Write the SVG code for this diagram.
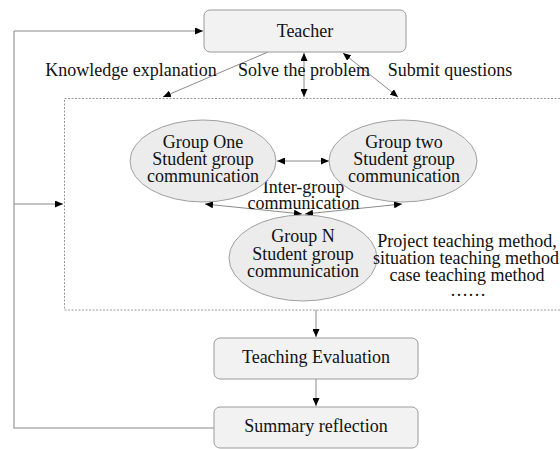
<svg xmlns="http://www.w3.org/2000/svg" width="560" height="449" viewBox="0 0 560 449">
<style>
text{font-family:"Liberation Serif","Times New Roman",serif;font-size:18px;fill:#111;text-anchor:middle}
.box{fill:#f2f2f2;stroke:#9a9a9a;stroke-width:1}
.ell{fill:#ececec;stroke:#a0a0a0;stroke-width:1}
.ln{fill:none;stroke:#8a8a8a;stroke-width:1}
.fb{fill:none;stroke:#b0b0b0;stroke-width:1.6}
.dash{fill:none;stroke:#9a9a9a;stroke-width:1;stroke-dasharray:2 1.5}
</style>
<defs>
<marker id="ah" markerUnits="userSpaceOnUse" markerWidth="9" markerHeight="7" refX="8" refY="3.5" orient="auto-start-reverse">
<path d="M0,0 L8,3.5 L0,7 z" fill="#000"/>
</marker>
</defs>
<rect x="0" y="0" width="560" height="449" fill="#fff"/>
<g id="container">
<rect class="dash" x="64.5" y="98.5" width="520" height="211.5"/>
</g>
<g id="connectors">
<path class="fb" d="M214,428 H14 V31"/>
<line class="ln" x1="14" y1="31" x2="203" y2="31" stroke="#555" marker-end="url(#ah)"/>
<line class="ln" x1="14" y1="204" x2="63" y2="204" stroke="#555" marker-end="url(#ah)"/>
<line class="ln" x1="268" y1="52" x2="163" y2="97" marker-end="url(#ah)"/>
<line class="ln" x1="304" y1="53" x2="304" y2="97" marker-start="url(#ah)" marker-end="url(#ah)"/>
<line class="ln" x1="343" y1="53" x2="398" y2="97" marker-start="url(#ah)" marker-end="url(#ah)"/>
<line class="ln" x1="277" y1="161" x2="329" y2="161" marker-start="url(#ah)" marker-end="url(#ah)"/>
<line class="ln" x1="205" y1="204" x2="302" y2="214" marker-start="url(#ah)" marker-end="url(#ah)"/>
<line class="ln" x1="402" y1="204" x2="305" y2="214" marker-start="url(#ah)" marker-end="url(#ah)"/>
<line class="ln" x1="316" y1="310" x2="316" y2="337" marker-end="url(#ah)"/>
<line class="ln" x1="316" y1="379" x2="316" y2="406" marker-end="url(#ah)"/>
</g>
<g id="labels">
<text x="131" y="76">Knowledge explanation</text>
<text x="304" y="76">Solve the problem</text>
<text x="450" y="76">Submit questions</text>
<text x="303.5" y="193">Inter-group</text>
<text x="303.5" y="209">communication</text>
</g>
<g id="teacher">
<rect class="box" x="204" y="10" width="202" height="42" rx="6"/>
<text x="305" y="37">Teacher</text>
</g>
<g id="group-one">
<ellipse class="ell" cx="203" cy="161" rx="73" ry="41"/>
<text x="203" y="148">Group One</text>
<text x="203" y="165">Student group</text>
<text x="203" y="182">communication</text>
</g>
<g id="group-two">
<ellipse class="ell" cx="403" cy="161" rx="74" ry="41"/>
<text x="404" y="148">Group two</text>
<text x="404" y="165">Student group</text>
<text x="404" y="182">communication</text>
</g>
<g id="group-n">
<ellipse class="ell" cx="303" cy="258" rx="74" ry="43"/>
<text x="303" y="242">Group N</text>
<text x="303" y="260">Student group</text>
<text x="303" y="277">communication</text>
</g>
<g id="methods">
<text x="467" y="247">Project teaching method,</text>
<text x="466" y="264">situation teaching method</text>
<text x="467" y="281">case teaching method</text>
<text x="468" y="296">……</text>
</g>
<g id="teaching-evaluation">
<rect class="box" x="214" y="338" width="204" height="41" rx="6"/>
<text x="316" y="363">Teaching Evaluation</text>
</g>
<g id="summary-reflection">
<rect class="box" x="214" y="407" width="204" height="41" rx="6"/>
<text x="316" y="432">Summary reflection</text>
</g>
</svg>
